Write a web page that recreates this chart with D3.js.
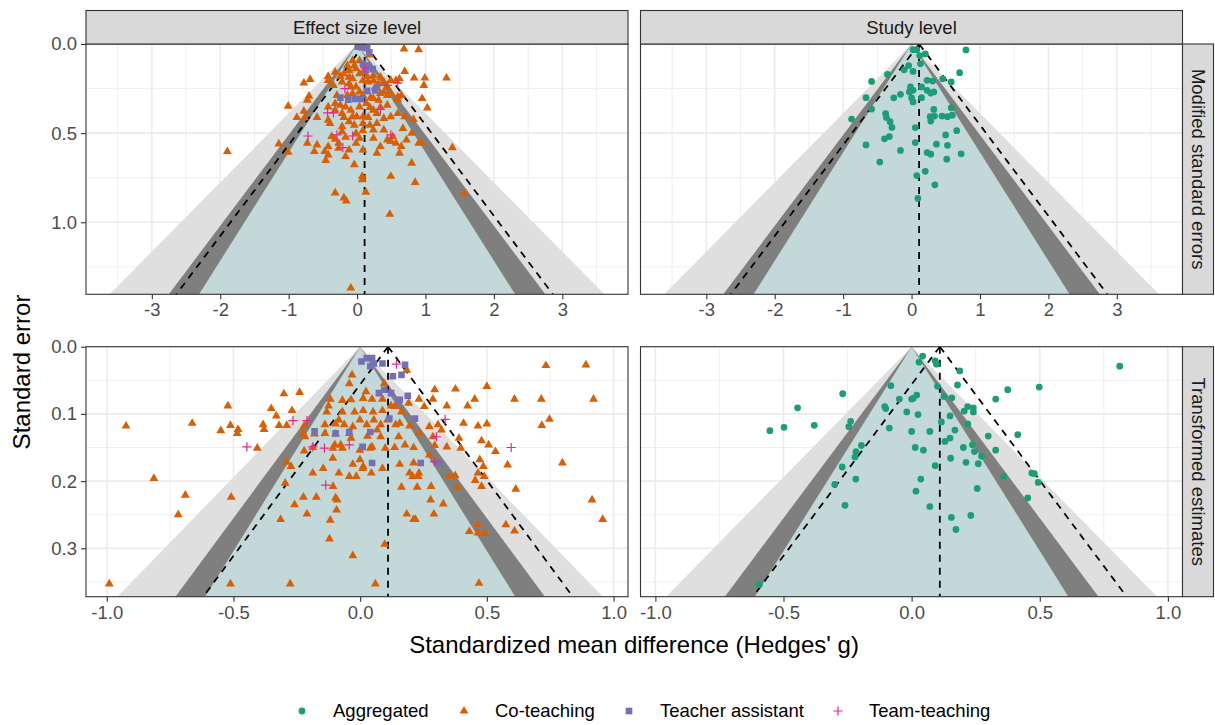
<!DOCTYPE html>
<html lang="en">
<head>
<meta charset="UTF-8">
<title>Funnel plots</title>
<style>
  body { margin: 0; background: #fff; }
  text { font-family: "Liberation Sans", Arial, Helvetica, sans-serif; }
</style>
</head>
<body>
<svg id="svg" width="1215" height="725"></svg>
<script src="https://d3js.org/d3.v7.min.js"></script>
<script>
// ---- data -----------------------------------------------------------
const groups = ['Aggregated', 'Co-teaching', 'Teacher assistant', 'Team-teaching']
const groupColors = ['#1B9E77', '#D95F02', '#7570B3', '#E7298A']
const colLabels = ['Effect size level', 'Study level']
const rowLabels = ['Modified standard errors', 'Transformed estimates']
const xTicksTop = [-3, -2, -1, 0, 1, 2, 3]
const xTicksBottom = [-1, -0.5, 0, 0.5, 1]
const yTicksTop = [0, 0.5, 1]
const yTicksBottom = [0, 0.1, 0.2, 0.3]
const pooled = 0.11

// effect size level, modified SE: [g, se]
const esModCo = [
  [0.686,0.028],[0.900,0.032],[0.188,0.061],[-0.066,0.093],[-0.041,0.121],[-0.117,0.148],[-0.193,0.167],[0.036,0.167],[-0.117,0.186],[-0.015,0.139],
  [0.239,0.176],[0.341,0.186],[0.696,0.154],[-0.320,0.158],[-0.422,0.182],[-0.686,0.199],[-0.778,0.219],[-0.422,0.204],[-0.346,0.232],[-0.219,0.213],
  [-0.117,0.223],[-0.015,0.241],[0.086,0.204],[0.163,0.213],[0.239,0.204],[0.315,0.223],[0.391,0.213],[0.442,0.241],[0.493,0.204],[0.569,0.204],
  [0.620,0.195],[0.834,0.191],[0.991,0.191],[1.307,0.191],[0.976,0.232],[0.036,0.269],[-0.066,0.278],[0.086,0.288],[0.391,0.269],[0.493,0.275],
  [0.595,0.297],[0.646,0.288],[-0.702,0.293],[-0.727,0.315],[-1.007,0.349],[-0.778,0.377],[-0.880,0.412],[-0.768,0.414],[-0.585,0.412],[-0.422,0.427],
  [-0.320,0.334],[-0.168,0.353],[-0.092,0.371],[0.036,0.353],[0.188,0.356],[0.239,0.371],[0.341,0.356],[0.442,0.343],[0.595,0.312],[0.951,0.306],
  [1.027,0.358],[0.493,0.408],[0.595,0.390],[0.696,0.408],[0.824,0.423],[-0.219,0.390],[-0.066,0.408],[0.086,0.408],[0.290,0.390],[0.391,0.417],
  [-0.117,0.436],[-0.397,0.445],[-0.219,0.464],[-0.041,0.455],[0.086,0.445],[0.188,0.455],[0.290,0.445],[0.391,0.482],[0.239,0.482],[-0.015,0.501],
  [-0.219,0.492],[-0.371,0.519],[0.671,0.473],[0.798,0.501],[0.900,0.557],[0.941,0.553],[-0.320,0.534],[-0.168,0.523],[0.036,0.529],[0.239,0.529],
  [0.442,0.538],[0.519,0.519],[0.569,0.557],[0.722,0.538],[-1.144,0.560],[-0.727,0.557],[-0.585,0.566],[-0.269,0.557],[-0.015,0.557],[0.646,0.575],
  [0.493,0.547],[-1.896,0.603],[-1.007,0.607],[-0.625,0.603],[-0.473,0.603],[-0.422,0.622],[-0.458,0.653],[-0.168,0.631],[-0.117,0.594],[0.086,0.594],
  [0.290,0.612],[0.341,0.575],[0.620,0.612],[1.393,0.581],[-0.041,0.677],[0.798,0.668],[-0.269,0.584],[-0.422,0.575],[0.076,0.742],[0.493,0.742],
  [0.849,0.776],[-0.320,0.835],[-0.193,0.863],[-0.158,0.881],[0.127,0.831],[0.478,0.955],[1.561,0.839],[-0.092,1.369],[0.076,0.761],
  [-0.244,0.180],[-0.066,0.195],[0.147,0.182],[0.264,0.245],[0.198,0.301],[0.315,0.315],[-0.320,0.371],[-0.193,0.412],[0.163,0.412],[-0.005,0.408],[0.086,0.486],
  [-0.142,0.121],[0.036,0.093],[0.086,0.158],[-0.092,0.241],[0.341,0.278],[0.239,0.306],[-0.142,0.288],[-0.295,0.288],[0.137,0.334],[0.442,0.288],
  [-0.244,0.343],[-0.422,0.353]
]
const esModTA = [
  [0.010,0.015],[0.071,0.019],[0.147,0.024],[0.178,0.046],[0.086,0.111],[0.163,0.121],[0.229,0.141],[0.127,0.145],
  [0.147,0.263],[0.264,0.260],[0.290,0.241],[-0.244,0.301],[-0.127,0.312],[-0.025,0.308],[0.061,0.308]
]
const esModTT = [
  [0.112,0.134],[-0.178,0.250],[0.442,0.232],[0.595,0.219],[-0.432,0.386],[-0.346,0.386],
  [0.341,0.367],[-0.717,0.516],[-0.066,0.516],[0.493,0.510],[-0.295,0.510],[-0.208,0.581]
]

// study level, modified SE
const stModAg = [
  [0.022,0.032],[0.076,0.032],[0.119,0.065],[0.200,0.056],[0.795,0.033],[0.130,0.111],[-0.043,0.121],[-0.108,0.145],[0.022,0.154],[-0.352,0.171],
  [0.703,0.161],[-0.584,0.210],[0.227,0.204],[0.308,0.208],[0.455,0.195],[0.579,0.213],[-0.016,0.241],[0.022,0.260],[0.146,0.241],[0.227,0.260],
  [0.325,0.269],[-0.162,0.282],[-0.260,0.302],[-0.666,0.301],[0.000,0.302],[0.022,0.325],[0.146,0.301],[-0.584,0.365],[-0.877,0.421],[-0.379,0.390],
  [-0.368,0.412],[-0.314,0.436],[-0.287,0.468],[0.325,0.367],[0.271,0.408],[0.335,0.404],[0.444,0.404],[0.525,0.408],[0.595,0.399],[0.579,0.358],
  [0.281,0.432],[0.054,0.469],[0.660,0.486],[0.498,0.510],[-0.325,0.519],[-0.395,0.532],[-0.666,0.566],[0.054,0.553],[0.363,0.562],[0.525,0.568],
  [-0.162,0.597],[0.227,0.609],[0.281,0.618],[0.725,0.616],[0.514,0.646],[-0.465,0.662],[0.200,0.714],[0.076,0.738],[0.341,0.790],[0.092,0.866],
  [-0.032,0.269],[0.281,0.275]
]

// effect size level, transformed estimates
const esTrCo = [
  [0.733,0.028],[0.891,0.027],[0.921,0.078],[0.715,0.078],[0.609,0.078],[0.500,0.059],[0.452,0.078],[0.424,0.088],[0.376,0.063],[0.294,0.064],
  [0.287,0.078],[0.342,0.088],[0.408,0.114],[0.465,0.118],[0.500,0.115],[0.747,0.108],[0.717,0.117],[0.390,0.136],[0.479,0.140],[0.507,0.146],
  [0.534,0.156],[0.397,0.151],[0.342,0.149],[0.294,0.147],[0.472,0.168],[0.486,0.178],[0.582,0.176],[0.798,0.173],[0.465,0.188],[0.490,0.193],
  [0.454,0.199],[0.479,0.208],[0.614,0.212],[0.383,0.209],[0.354,0.193],[0.375,0.192],[0.915,0.228],[0.957,0.257],[0.463,0.265],[0.431,0.275],
  [0.465,0.277],[0.493,0.278],[0.575,0.265],[0.609,0.274],[0.469,0.352],[0.280,0.208],[0.163,0.209],[0.225,0.209],[0.278,0.228],[0.328,0.234],
  [0.291,0.249],[0.184,0.249],[0.211,0.257],[0.218,0.257],[0.097,0.294],[0.060,0.353],[-0.029,0.311],[-0.121,0.286],[-0.118,0.258],[-0.093,0.243],
  [-0.091,0.228],[-0.097,0.225],[-0.173,0.224],[-0.224,0.224],[-0.259,0.235],[-0.210,0.249],[-0.314,0.257],[-0.276,0.353],[-0.512,0.353],[-0.990,0.353],
  [-0.718,0.250],[-0.690,0.221],[-0.509,0.224],[-0.814,0.196],[-0.924,0.118],[-0.663,0.114],[-0.550,0.125],[-0.512,0.117],[-0.482,0.123],[-0.485,0.129],
  [-0.522,0.088],[-0.406,0.151],[-0.383,0.116],[-0.379,0.123],[-0.351,0.092],[-0.331,0.103],[-0.320,0.117],[-0.301,0.070],[-0.290,0.117],[-0.269,0.095],
  [-0.239,0.068],[-0.221,0.118],[-0.224,0.129],[-0.218,0.134],[-0.187,0.150],[-0.221,0.155],[-0.290,0.172],[-0.273,0.178],[-0.296,0.203],[-0.187,0.188],
  [-0.146,0.181],[-0.107,0.208],[-0.084,0.188],[-0.043,0.193],[-0.029,0.175],[-0.015,0.193],[0.012,0.178],[-0.001,0.168],[0.010,0.181],[0.044,0.188],
  [0.088,0.181],[0.156,0.175],[0.195,0.188],[0.211,0.173],[0.232,0.188],[0.229,0.193],[0.207,0.193],[0.273,0.161],[0.307,0.173],[-0.108,0.166],
  [-0.108,0.151],[-0.077,0.146],[-0.100,0.146],[-0.070,0.151],[-0.036,0.136],[-0.001,0.154],[0.040,0.151],[0.047,0.149],[0.099,0.151],[0.136,0.150],
  [0.177,0.146],[0.211,0.150],[0.152,0.134],[0.081,0.134],[0.029,0.133],[-0.043,0.129],[-0.097,0.130],[-0.139,0.129],[-0.180,0.130],[-0.139,0.116],
  [-0.097,0.115],[-0.084,0.109],[-0.063,0.116],[-0.029,0.119],[-0.001,0.109],[0.026,0.116],[0.054,0.109],[0.081,0.116],[0.067,0.124],[0.108,0.109],
  [0.140,0.116],[0.156,0.114],[0.195,0.118],[0.232,0.129],[0.273,0.119],[0.307,0.116],[0.321,0.124],[0.287,0.134],[-0.132,0.097],[-0.125,0.088],
  [-0.070,0.097],[-0.022,0.097],[0.012,0.095],[0.051,0.097],[0.088,0.095],[0.163,0.097],[0.191,0.084],[0.232,0.078],[0.253,0.089],[0.122,0.088],
  [0.012,0.077],[0.047,0.078],[0.088,0.078],[-0.118,0.078],[-0.070,0.080],[-0.036,0.079],[-0.032,0.042],[0.023,0.067],[0.184,0.035],[0.095,0.055],
  [-0.043,0.055],[0.136,0.089]
]
const esTrTA = [
  [0.005,0.022],[0.026,0.017],[0.047,0.017],[0.054,0.025],[0.088,0.025],[0.040,0.029],[0.177,0.027],[0.129,0.044],[0.163,0.042],[0.074,0.069],
  [0.095,0.064],[0.122,0.069],[0.156,0.079],[0.188,0.073],[0.115,0.107],[0.216,0.107],[-0.180,0.126],[-0.097,0.129],[-0.043,0.127],[0.040,0.127],
  [0.010,0.149],[0.047,0.173],[0.239,0.173],[0.314,0.173]
]
const esTrTT = [
  [0.143,0.026],[-0.265,0.110],[-0.210,0.110],[0.335,0.108],[0.301,0.134],[-0.447,0.149],
  [-0.187,0.149],[-0.141,0.151],[-0.043,0.146],[0.596,0.150],[0.294,0.171],[-0.136,0.206]
]

// study level, transformed estimates
const stTrAg = [
  [0.043,0.014],[0.029,0.023],[0.092,0.021],[0.097,0.026],[0.188,0.036],[0.812,0.029],[-0.081,0.058],[0.101,0.059],[0.179,0.057],[0.498,0.060],
  [0.375,0.064],[-0.269,0.070],[-0.048,0.078],[0.000,0.078],[0.020,0.072],[0.006,0.077],[0.126,0.074],[0.157,0.076],[0.328,0.078],[-0.445,0.091],
  [-0.105,0.089],[-0.101,0.092],[-0.019,0.097],[0.025,0.101],[0.205,0.096],[0.219,0.089],[0.241,0.091],[0.241,0.097],[0.150,0.103],[0.116,0.112],
  [-0.238,0.111],[-0.245,0.119],[-0.380,0.117],[-0.498,0.120],[-0.553,0.125],[-0.087,0.121],[0.169,0.124],[0.219,0.115],[0.000,0.126],[0.071,0.126],
  [0.414,0.131],[0.299,0.133],[0.150,0.136],[0.130,0.141],[0.014,0.150],[0.046,0.154],[0.202,0.150],[0.237,0.146],[0.245,0.156],[0.273,0.163],
  [0.328,0.154],[-0.196,0.147],[-0.217,0.156],[-0.221,0.164],[0.152,0.166],[0.212,0.172],[0.260,0.174],[0.092,0.177],[-0.271,0.179],[0.469,0.188],
  [0.479,0.189],[0.494,0.202],[0.360,0.193],[0.036,0.197],[-0.218,0.197],[-0.300,0.205],[0.256,0.211],[0.017,0.215],[0.453,0.225],[-0.260,0.236],
  [0.071,0.238],[0.155,0.254],[0.231,0.251],[0.173,0.272],[-0.594,0.354]
]

// ---- layout ---------------------------------------------------------
const svg = d3.select('#svg')
svg.append('rect').attr('width', 1215).attr('height', 725).attr('fill', '#fff')

const colX = [[86, 628], [640.5, 1182.5]]
const rowY = [[44, 294.3], [346.7, 596.7]]
const stripTop = 10.5
const stripRight = [1182.5, 1213.5]
const small = 18.5

const panels = [
  { r: 0, c: 0, xd: [-3.962, 3.96], yd: [0, 1.404], xt: xTicksTop, yt: yTicksTop,
    sets: [[esModCo, 1], [esModTA, 2], [esModTT, 3]] },
  { r: 0, c: 1, xd: [-3.962, 3.96], yd: [0, 1.404], xt: xTicksTop, yt: yTicksTop,
    sets: [[stModAg, 0]] },
  { r: 1, c: 0, xd: [-1.082, 1.057], yd: [0, 0.372], xt: xTicksBottom, yt: yTicksBottom,
    sets: [[esTrCo, 1], [esTrTA, 2], [esTrTT, 3]] },
  { r: 1, c: 1, xd: [-1.058, 1.057], yd: [0, 0.372], xt: xTicksBottom, yt: yTicksBottom,
    sets: [[stTrAg, 0]] }
]

function minorOf(ticks, dom) {
  const step = ticks[1] - ticks[0]
  const out = []
  for (let v = ticks[0] - step / 2; v <= ticks[ticks.length - 1] + step / 2 + 1e-9; v += step) {
    if (v >= Math.min(...dom) && v <= Math.max(...dom)) out.push(v)
  }
  return out
}

function drawMark(sel, g) {
  if (g === 3) {
    sel.append('path').attr('d', 'M-4.6,0H4.6M0,-4.6V4.6')
      .attr('stroke', groupColors[g]).attr('stroke-width', 1.2).attr('fill', 'none')
  } else {
    const type = [d3.symbolCircle, d3.symbolTriangle, d3.symbolSquare][g]
    const size = [36, 34, 44][g]
    sel.append('path').attr('d', d3.symbol(type, size)()).attr('fill', groupColors[g])
  }
}

const fmt = d3.format('.1f')

panels.forEach((p, i) => {
  const [x0, x1] = colX[p.c]
  const [y0, y1] = rowY[p.r]
  const x = d3.scaleLinear().domain(p.xd).range([x0, x1])
  const y = d3.scaleLinear().domain(p.yd).range([y0, y1])
  const seMax = p.yd[1]

  svg.append('clipPath').attr('id', 'clip' + i)
    .append('rect').attr('x', x0).attr('y', y0).attr('width', x1 - x0).attr('height', y1 - y0)

  const g = svg.append('g').attr('clip-path', `url(#clip${i})`)

  // grid
  minorOf(p.xt, p.xd).forEach(v => g.append('line')
    .attr('x1', x(v)).attr('x2', x(v)).attr('y1', y0).attr('y2', y1)
    .attr('stroke', '#ebebeb').attr('stroke-width', 0.8))
  minorOf(p.yt, p.yd).forEach(v => g.append('line')
    .attr('y1', y(v)).attr('y2', y(v)).attr('x1', x0).attr('x2', x1)
    .attr('stroke', '#ebebeb').attr('stroke-width', 0.8))
  p.xt.forEach(v => g.append('line')
    .attr('x1', x(v)).attr('x2', x(v)).attr('y1', y0).attr('y2', y1)
    .attr('stroke', '#ebebeb').attr('stroke-width', 1.6))
  p.yt.forEach(v => g.append('line')
    .attr('y1', y(v)).attr('y2', y(v)).attr('x1', x0).attr('x2', x1)
    .attr('stroke', '#ebebeb').attr('stroke-width', 1.6))

  // contour-enhanced funnel regions
  const regions = [[2.576, '#dfdfdf'], [1.96, '#7f7f7f'], [1.645, '#c3d8d9']]
  regions.forEach(([z, col]) => {
    const pts = [[0, 0], [-z * seMax, seMax], [z * seMax, seMax]]
    g.append('path')
      .attr('d', d3.line().x(d => x(d[0])).y(d => y(d[1]))(pts) + 'Z')
      .attr('fill', col)
  })

  // dashed reference lines
  const dashed = [
    [[pooled, 0], [pooled, seMax]],
    [[pooled, 0], [pooled - 1.96 * seMax, seMax]],
    [[pooled, 0], [pooled + 1.96 * seMax, seMax]]
  ]
  dashed.forEach(seg => g.append('path')
    .attr('d', d3.line().x(d => x(d[0])).y(d => y(d[1]))(seg))
    .attr('stroke', '#000').attr('stroke-width', 1.8)
    .attr('stroke-dasharray', '7,6').attr('fill', 'none'))

  // points
  p.sets.forEach(([data, gi]) => {
    data.forEach(d => {
      const m = g.append('g').attr('transform', `translate(${x(d[0])},${y(d[1])})`)
      drawMark(m, gi)
    })
  })

  // border
  svg.append('rect').attr('x', x0).attr('y', y0).attr('width', x1 - x0).attr('height', y1 - y0)
    .attr('fill', 'none').attr('stroke', '#333').attr('stroke-width', 1.1)

  // x axis
  const xa = svg.append('g').attr('transform', `translate(0,${y1})`)
    .call(d3.axisBottom(x).tickValues(p.xt).tickSize(5).tickPadding(4)
      .tickFormat(v => p.r === 0 ? String(v).replace('\u2212', '-') : fmt(v).replace('\u2212', '-')))
  xa.select('.domain').remove()
  xa.selectAll('line').attr('stroke', '#333').attr('stroke-width', 1.1)
  xa.selectAll('text').attr('fill', '#4d4d4d').attr('font-size', small)
    .attr('font-family', '"Liberation Sans", Arial, sans-serif')

  // y axis (left column only)
  if (p.c === 0) {
    const ya = svg.append('g').attr('transform', `translate(${x0},0)`)
      .call(d3.axisLeft(y).tickValues(p.yt).tickSize(5).tickPadding(4).tickFormat(fmt))
    ya.select('.domain').remove()
    ya.selectAll('line').attr('stroke', '#333').attr('stroke-width', 1.1)
    ya.selectAll('text').attr('fill', '#4d4d4d').attr('font-size', small)
      .attr('font-family', '"Liberation Sans", Arial, sans-serif')
  }
})

// strips
colX.forEach(([x0, x1], c) => {
  svg.append('rect').attr('x', x0).attr('y', stripTop).attr('width', x1 - x0).attr('height', rowY[0][0] - stripTop)
    .attr('fill', '#d9d9d9').attr('stroke', '#333').attr('stroke-width', 1.1)
  svg.append('text').attr('x', (x0 + x1) / 2).attr('y', (stripTop + rowY[0][0]) / 2)
    .attr('dy', '0.35em').attr('text-anchor', 'middle').attr('font-size', small).attr('fill', '#1a1a1a')
    .text(colLabels[c])
})
rowY.forEach(([y0, y1], r) => {
  svg.append('rect').attr('x', stripRight[0]).attr('y', y0).attr('width', stripRight[1] - stripRight[0]).attr('height', y1 - y0)
    .attr('fill', '#d9d9d9').attr('stroke', '#333').attr('stroke-width', 1.1)
  const cx = (stripRight[0] + stripRight[1]) / 2, cy = (y0 + y1) / 2
  svg.append('text').attr('transform', `translate(${cx},${cy}) rotate(90)`)
    .attr('dy', '0.35em').attr('text-anchor', 'middle').attr('font-size', small).attr('fill', '#1a1a1a')
    .text(rowLabels[r])
})

// axis titles
svg.append('text').attr('x', 634).attr('y', 645).attr('dy', '0.35em')
  .attr('text-anchor', 'middle').attr('font-size', 24).attr('fill', '#000')
  .text("Standardized mean difference (Hedges' g)")
svg.append('text').attr('transform', 'translate(22,372) rotate(-90)').attr('dy', '0.35em')
  .attr('text-anchor', 'middle').attr('font-size', 24).attr('fill', '#000')
  .text('Standard error')

// legend
const legendX = [302, 464, 629, 838]
groups.forEach((name, gi) => {
  const m = svg.append('g').attr('transform', `translate(${legendX[gi]},711)`)
  drawMark(m, gi)
  svg.append('text').attr('x', legendX[gi] + 31).attr('y', 711).attr('dy', '0.35em')
    .attr('font-size', small).attr('fill', '#000').text(name)
})
</script>
</body>
</html>
